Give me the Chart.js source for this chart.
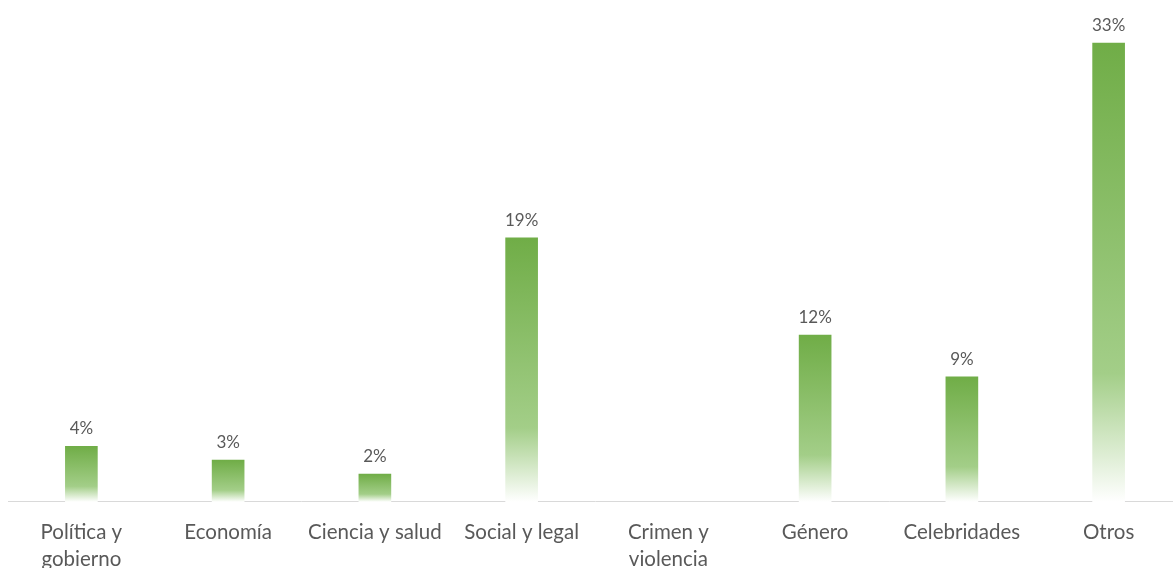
<!DOCTYPE html>
<html>
<head>
<meta charset="utf-8">
<script src="https://cdn.jsdelivr.net/npm/chart.js@4.4.0/dist/chart.umd.min.js"></script>
<style>
  html, body { margin: 0; padding: 0; background: #fff; overflow: hidden; }
  .wrap { width: 1182px; height: 595px; position: relative; }
</style>
</head>
<body>
<div class="wrap"><canvas id="temasChart"></canvas></div>
<script>
const categories = [
    ['Política y', 'gobierno'], 'Economía', 'Ciencia y salud', 'Social y legal',
    ['Crimen y', 'violencia'], 'Género', 'Celebridades', 'Otros'
];
const shares = [4, 3, 2, 19, 0, 12, 9, 33];

// etiquetas de valor encima de cada barra
const valueLabels = {
    id: 'valueLabels',
    afterDatasetsDraw(chart) {
        const { ctx } = chart;
        const meta = chart.getDatasetMeta(0);
        ctx.save();
        ctx.font = '17px Lato, "Open Sans", sans-serif';
        ctx.fillStyle = '#595959';
        ctx.textAlign = 'center';
        ctx.textBaseline = 'bottom';
        meta.data.forEach((bar, i) => {
            if (!shares[i]) return;
            ctx.fillText(shares[i] + '%', bar.x, bar.y - 9);
        });
        ctx.restore();
    }
};

function barGradient(context) {
    const chart = context.chart;
    if (!context.raw) return 'rgba(0,0,0,0)';
    if (!chart.chartArea) return '#70AD47';
    const y = chart.scales.y;
    const top = y.getPixelForValue(context.raw);
    const base = y.getPixelForValue(0);
    const g = chart.ctx.createLinearGradient(0, top, 0, base);
    g.addColorStop(0, '#70AD47');
    g.addColorStop(0.72, '#A3CE88');
    g.addColorStop(1, '#FFFFFF');
    return g;
}

document.addEventListener('DOMContentLoaded', () => {
    const ctx = document.getElementById('temasChart').getContext('2d');
    new Chart(ctx, {
        type: 'bar',
        data: {
            labels: categories,
            datasets: [{
                data: shares,
                backgroundColor: barGradient,
                borderWidth: 0,
                barThickness: 32
            }]
        },
        options: {
            responsive: true,
            maintainAspectRatio: false,
            animation: false,
            layout: { padding: { top: 0, bottom: 5, left: 8, right: 0 } },
            plugins: {
                legend: { display: false },
                tooltip: { enabled: false }
            },
            scales: {
                y: {
                    display: false,
                    min: 0,
                    max: 36.1
                },
                x: {
                    grid: { display: false, drawTicks: false },
                    border: { color: '#D9D9D9', width: 1 },
                    ticks: {
                        color: '#595959',
                        padding: 17,
                        maxRotation: 0,
                        autoSkip: false,
                        font: { family: 'Lato, "Open Sans", sans-serif', size: 20.5, lineHeight: 1.32 }
                    }
                }
            }
        },
        plugins: [valueLabels]
    });
});
</script>
</body>
</html>
